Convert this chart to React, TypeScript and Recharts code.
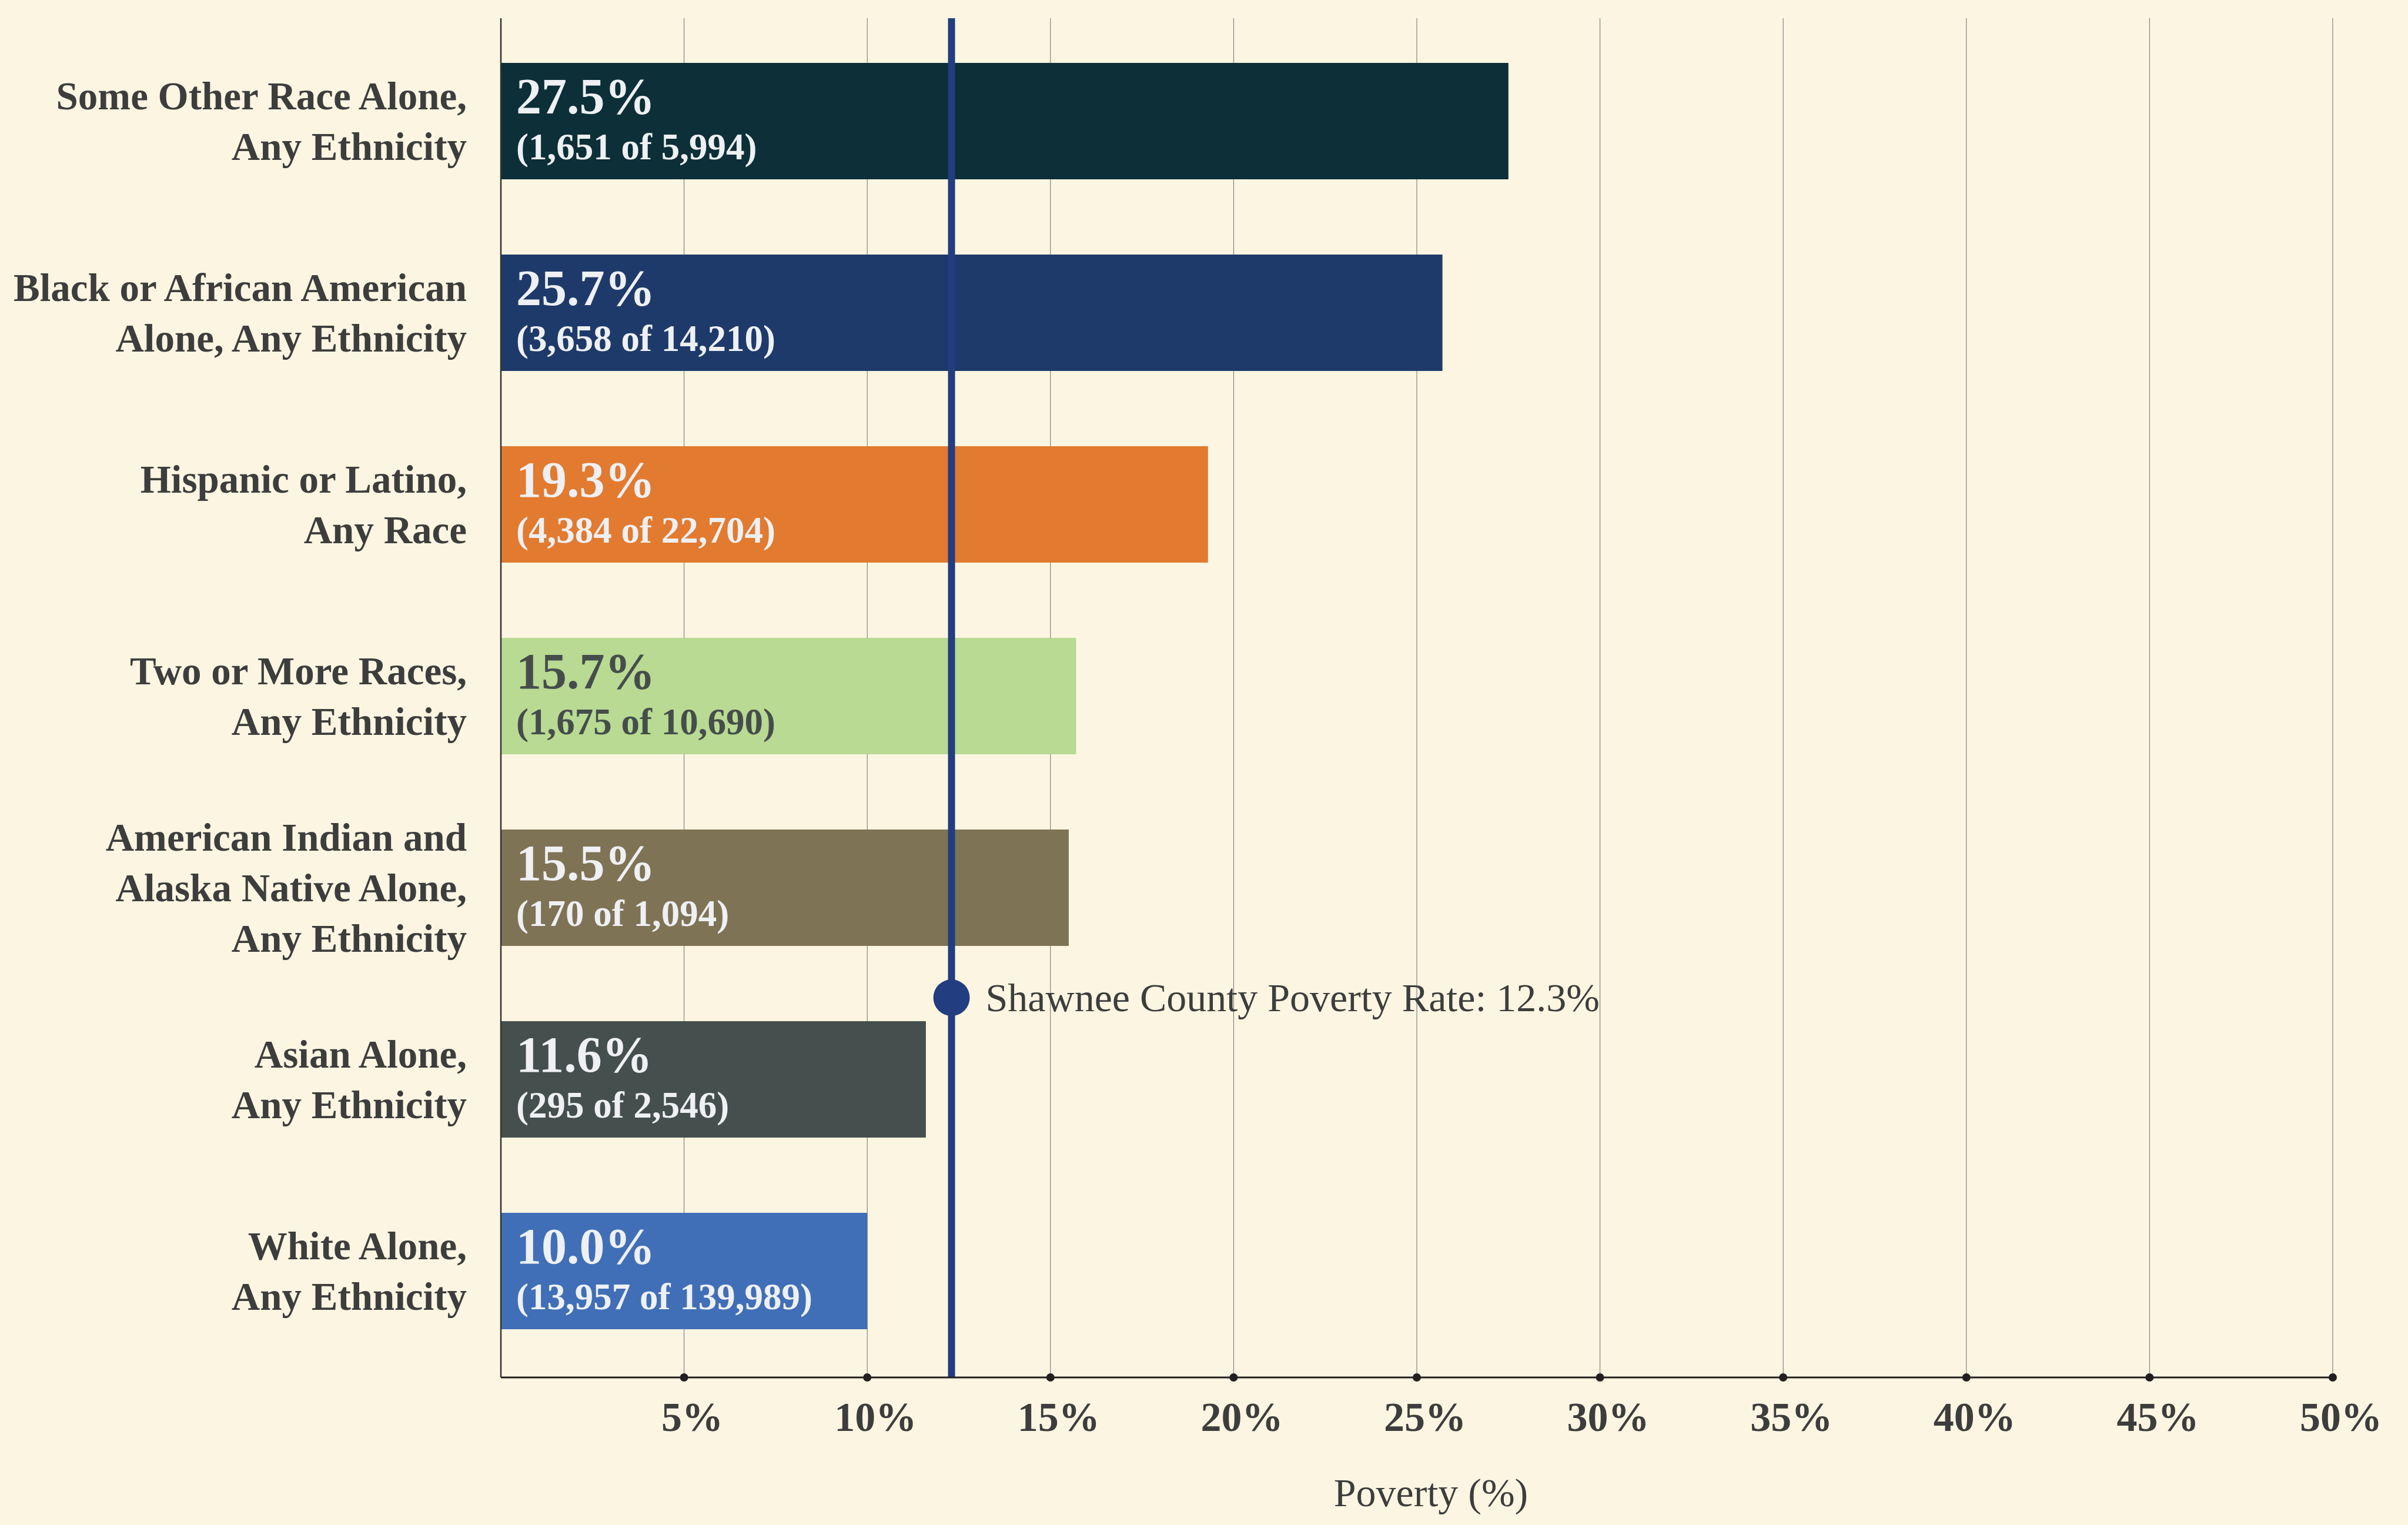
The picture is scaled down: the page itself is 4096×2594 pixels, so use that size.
import { BarChart, Bar, XAxis, YAxis, CartesianGrid, ReferenceLine, LabelList, Cell, Label } from 'recharts'

const BG = '#fcf5e1'
const INK = '#3d3d3d'
const NAVY = '#223d80'
const FONT = '"Liberation Serif", "Times New Roman", serif'

// category labels, '|' marks a line break
const categories = [
  'Some Other Race Alone,|Any Ethnicity',
  'Black or African American|Alone, Any Ethnicity',
  'Hispanic or Latino,|Any Race',
  'Two or More Races,|Any Ethnicity',
  'American Indian and|Alaska Native Alone,|Any Ethnicity',
  'Asian Alone,|Any Ethnicity',
  'White Alone,|Any Ethnicity',
]
const rates = [27.5, 25.7, 19.3, 15.7, 15.5, 11.6, 10.0]
const counts = [
  '1,651 of 5,994',
  '3,658 of 14,210',
  '4,384 of 22,704',
  '1,675 of 10,690',
  '170 of 1,094',
  '295 of 2,546',
  '13,957 of 139,989',
]
const barColors = ['#0c2f38', '#1e3a6a', '#e27a30', '#b8da92', '#7f7356', '#454f4d', '#406fb7']
const textColors = ['#eef0f3', '#eef0f3', '#eef0f3', '#454d4c', '#eef0f3', '#eef0f3', '#eef0f3']
const xTicks = [5, 10, 15, 20, 25, 30, 35, 40, 45, 50]
const countyRate = 12.3

const data = categories.map((name, i) => ({ name, rate: rates[i] }))

function CategoryTick({ x, y, payload }: any) {
  const lines = String(payload.value).split('|')
  const lh = 86
  const start = y - ((lines.length - 1) * lh) / 2
  return (
    <g>
      {lines.map((l, i) => (
        <text
          key={i}
          x={x - 58}
          y={start + i * lh}
          textAnchor="end"
          dominantBaseline="central"
          style={{ fontFamily: FONT, fontWeight: 700, fontSize: 67, fill: INK }}
        >
          {l}
        </text>
      ))}
    </g>
  )
}

function PercentTick({ x, y, payload }: any) {
  return (
    <g>
      <circle cx={x} cy={y} r={7} fill="#231f20" />
      <text
        x={x + 14}
        y={y + 67}
        textAnchor="middle"
        dominantBaseline="central"
        style={{ fontFamily: FONT, fontWeight: 700, fontSize: 70, fill: INK }}
      >
        {payload.value}%
      </text>
    </g>
  )
}

function AxisTitle({ viewBox }: any) {
  const { x = 0, y = 0, width = 0 } = viewBox ?? {}
  return (
    <text
      x={x + width / 2 + 24}
      y={y + 196}
      textAnchor="middle"
      dominantBaseline="central"
      style={{ fontFamily: FONT, fontSize: 68, fill: INK }}
    >
      Poverty (%)
    </text>
  )
}

function BarText(props: any) {
  const { x, y, height, value } = props
  const i = props.index ?? rates.indexOf(value)
  const cy = y + height / 2
  const fill = textColors[i]
  return (
    <g>
      <text
        x={x + 26}
        y={cy - 42}
        dominantBaseline="central"
        style={{ fontFamily: FONT, fontWeight: 700, fontSize: 86, fill }}
      >
        {rates[i].toFixed(1)}%
      </text>
      <text
        x={x + 26}
        y={cy + 44}
        dominantBaseline="central"
        style={{ fontFamily: FONT, fontWeight: 700, fontSize: 63, fill }}
      >
        ({counts[i]})
      </text>
    </g>
  )
}

function CountyMarker({ viewBox }: any) {
  const { x = 0, y = 0, height = 0 } = viewBox ?? {}
  const cy = y + height * 0.7206
  return (
    <g>
      <circle cx={x} cy={cy} r={31} fill={NAVY} />
      <text
        x={x + 58}
        y={cy}
        dominantBaseline="central"
        style={{ fontFamily: FONT, fontSize: 68, fill: INK }}
      >
        Shawnee County Poverty Rate: {countyRate}%
      </text>
    </g>
  )
}

export default function App() {
  return (
    <div style={{ position: 'absolute', left: 0, top: 0, width: 4096, height: 2594, background: BG }}>
      <BarChart
        width={4096}
        height={2594}
        data={data}
        layout="vertical"
        margin={{ top: 31, right: 128, bottom: 0, left: 0 }}
      >
        <CartesianGrid horizontal={false} stroke="#6e6e6e" strokeWidth={1} />
        <XAxis
          type="number"
          domain={[0, 50]}
          ticks={xTicks}
          height={251}
          axisLine={{ stroke: '#231f20', strokeWidth: 3 }}
          tickLine={false}
          tickSize={0}
          tickMargin={0}
          tick={<PercentTick />}
          interval={0}
        >
          <Label content={<AxisTitle />} />
        </XAxis>
        <YAxis
          type="category"
          dataKey="name"
          width={852}
          axisLine={{ stroke: '#333333', strokeWidth: 2.5 }}
          tickLine={false}
          tickSize={0}
          tickMargin={0}
          tick={<CategoryTick />}
          interval={0}
          padding={{ top: 12, bottom: 18 }}
        />
        <Bar dataKey="rate" barSize={198} isAnimationActive={false}>
          {data.map((_, i) => (
            <Cell key={i} fill={barColors[i]} />
          ))}
          <LabelList dataKey="rate" content={<BarText />} />
        </Bar>
        <ReferenceLine
          x={countyRate}
          stroke={NAVY}
          strokeWidth={12}
          label={<CountyMarker />}
        />
      </BarChart>
    </div>
  )
}
